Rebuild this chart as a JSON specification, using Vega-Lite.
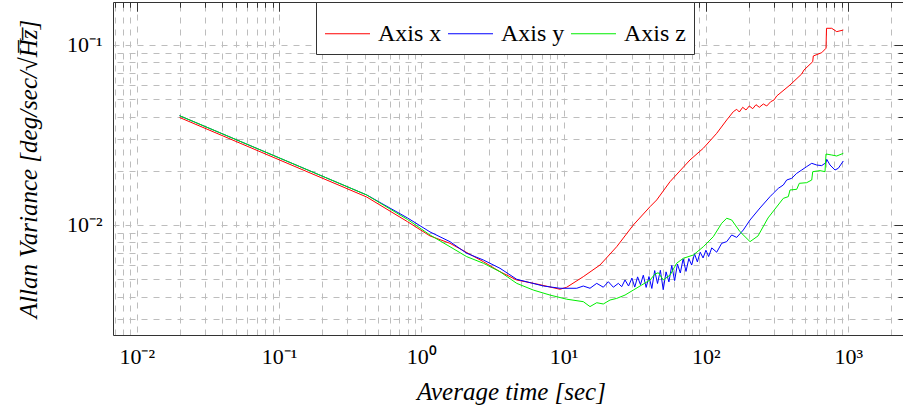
{
  "$schema": "https://vega.github.io/schema/vega-lite/v6.json",
  "autosize": {"type": "none"},
  "width": 790,
  "height": 333,
  "padding": {"left": 113, "top": 2, "right": 0, "bottom": 77},
  "config": {
    "view": {"stroke": null},
    "font": "Liberation Serif",
    "axis": {
      "gridColor": "#bdbdbd",
      "gridDash": [6, 6],
      "gridWidth": 1,
      "tickColor": "#333333",
      "tickWidth": 1,
      "domainColor": "#333333",
      "domainWidth": 1,
      "labelFont": "Liberation Serif",
      "labelFontSize": 22,
      "labelColor": "#000000",
      "titleFont": "Liberation Serif",
      "titleFontWeight": "normal",
      "titleFontStyle": "italic",
      "titleFontSize": 25,
      "titleColor": "#000000"
    },
    "legend": {"labelFont": "Liberation Serif"}
  },
  "data": {
    "values": [
      {"s": "Axis x", "t": 0.02, "v": 0.03956},
      {"s": "Axis x", "t": 0.4134, "v": 0.0143},
      {"s": "Axis x", "t": 0.8, "v": 0.01043},
      {"s": "Axis x", "t": 1.151, "v": 0.00869},
      {"s": "Axis x", "t": 1.591, "v": 0.00791},
      {"s": "Axis x", "t": 2.728, "v": 0.006254},
      {"s": "Axis x", "t": 3.573, "v": 0.005502},
      {"s": "Axis x", "t": 4.682, "v": 0.004948},
      {"s": "Axis x", "t": 6.471, "v": 0.004702},
      {"s": "Axis x", "t": 9.434, "v": 0.004394},
      {"s": "Axis x", "t": 10.51, "v": 0.004508},
      {"s": "Axis x", "t": 13.75, "v": 0.005162},
      {"s": "Axis x", "t": 18.03, "v": 0.005995},
      {"s": "Axis x", "t": 23.6, "v": 0.00757},
      {"s": "Axis x", "t": 30.9, "v": 0.01},
      {"s": "Axis x", "t": 40.5, "v": 0.01264},
      {"s": "Axis x", "t": 45.1, "v": 0.01377},
      {"s": "Axis x", "t": 55.95, "v": 0.0174},
      {"s": "Axis x", "t": 77.3, "v": 0.02297},
      {"s": "Axis x", "t": 95.9, "v": 0.02668},
      {"s": "Axis x", "t": 119.1, "v": 0.0323},
      {"s": "Axis x", "t": 140.0, "v": 0.03831},
      {"s": "Axis x", "t": 155.8, "v": 0.0426},
      {"s": "Axis x", "t": 164.6, "v": 0.04393},
      {"s": "Axis x", "t": 171.7, "v": 0.04244},
      {"s": "Axis x", "t": 181.4, "v": 0.04507},
      {"s": "Axis x", "t": 191.3, "v": 0.04354},
      {"s": "Axis x", "t": 201.8, "v": 0.04583},
      {"s": "Axis x", "t": 213.3, "v": 0.04427},
      {"s": "Axis x", "t": 224.9, "v": 0.0466},
      {"s": "Axis x", "t": 237.3, "v": 0.04507},
      {"s": "Axis x", "t": 253.2, "v": 0.04702},
      {"s": "Axis x", "t": 267.6, "v": 0.04583},
      {"s": "Axis x", "t": 285.4, "v": 0.04842},
      {"s": "Axis x", "t": 301.0, "v": 0.04949},
      {"s": "Axis x", "t": 314.5, "v": 0.05208},
      {"s": "Axis x", "t": 390, "v": 0.05995},
      {"s": "Axis x", "t": 471.3, "v": 0.06902},
      {"s": "Axis x", "t": 489.2, "v": 0.07263},
      {"s": "Axis x", "t": 563, "v": 0.08075},
      {"s": "Axis x", "t": 568.5, "v": 0.08688},
      {"s": "Axis x", "t": 651.3, "v": 0.09062},
      {"s": "Axis x", "t": 698.2, "v": 0.09588},
      {"s": "Axis x", "t": 703.9, "v": 0.1238},
      {"s": "Axis x", "t": 765.6, "v": 0.1238},
      {"s": "Axis x", "t": 830.4, "v": 0.1186},
      {"s": "Axis x", "t": 924, "v": 0.1211},

      {"s": "Axis y", "t": 0.02, "v": 0.04048},
      {"s": "Axis y", "t": 0.4134, "v": 0.01468},
      {"s": "Axis y", "t": 0.8, "v": 0.01094},
      {"s": "Axis y", "t": 1.151, "v": 0.00915},
      {"s": "Axis y", "t": 1.591, "v": 0.008075},
      {"s": "Axis y", "t": 2.084, "v": 0.006965},
      {"s": "Axis y", "t": 2.728, "v": 0.006391},
      {"s": "Axis y", "t": 3.573, "v": 0.005746},
      {"s": "Axis y", "t": 4.682, "v": 0.004993},
      {"s": "Axis y", "t": 7.2, "v": 0.004582},
      {"s": "Axis y", "t": 9.434, "v": 0.00445},
      {"s": "Axis y", "t": 12.37, "v": 0.00445},
      {"s": "Axis y", "t": 13.75, "v": 0.00458},
      {"s": "Axis y", "t": 15.33, "v": 0.00445},
      {"s": "Axis y", "t": 17.09, "v": 0.00474},
      {"s": "Axis y", "t": 19.01, "v": 0.00451},
      {"s": "Axis y", "t": 20.62, "v": 0.00484},
      {"s": "Axis y", "t": 22.36, "v": 0.00451},
      {"s": "Axis y", "t": 24.24, "v": 0.00474},
      {"s": "Axis y", "t": 25.6, "v": 0.00454},
      {"s": "Axis y", "t": 27.01, "v": 0.00495},
      {"s": "Axis y", "t": 28.6, "v": 0.00458},
      {"s": "Axis y", "t": 30.2, "v": 0.00507},
      {"s": "Axis y", "t": 31.62, "v": 0.00452},
      {"s": "Axis y", "t": 33.11, "v": 0.00515},
      {"s": "Axis y", "t": 34.67, "v": 0.00466},
      {"s": "Axis y", "t": 36.31, "v": 0.00526},
      {"s": "Axis y", "t": 38.02, "v": 0.0045},
      {"s": "Axis y", "t": 39.81, "v": 0.00517},
      {"s": "Axis y", "t": 41.69, "v": 0.00444},
      {"s": "Axis y", "t": 43.65, "v": 0.00558},
      {"s": "Axis y", "t": 45.71, "v": 0.00473},
      {"s": "Axis y", "t": 47.86, "v": 0.0056},
      {"s": "Axis y", "t": 50.12, "v": 0.00437},
      {"s": "Axis y", "t": 52.48, "v": 0.00549},
      {"s": "Axis y", "t": 54.95, "v": 0.00483},
      {"s": "Axis y", "t": 57.54, "v": 0.00596},
      {"s": "Axis y", "t": 60.26, "v": 0.00491},
      {"s": "Axis y", "t": 63.1, "v": 0.00607},
      {"s": "Axis y", "t": 66.07, "v": 0.00541},
      {"s": "Axis y", "t": 69.18, "v": 0.00648},
      {"s": "Axis y", "t": 72.44, "v": 0.00552},
      {"s": "Axis y", "t": 75.86, "v": 0.00651},
      {"s": "Axis y", "t": 79.43, "v": 0.00599},
      {"s": "Axis y", "t": 83.18, "v": 0.00692},
      {"s": "Axis y", "t": 87.1, "v": 0.00624},
      {"s": "Axis y", "t": 91.2, "v": 0.00706},
      {"s": "Axis y", "t": 95.5, "v": 0.00656},
      {"s": "Axis y", "t": 100, "v": 0.00724},
      {"s": "Axis y", "t": 104.5, "v": 0.00668},
      {"s": "Axis y", "t": 109.9, "v": 0.00746},
      {"s": "Axis y", "t": 119.1, "v": 0.00706},
      {"s": "Axis y", "t": 129.1, "v": 0.00791},
      {"s": "Axis y", "t": 140.0, "v": 0.00808},
      {"s": "Axis y", "t": 151.8, "v": 0.0088},
      {"s": "Axis y", "t": 164.6, "v": 0.00853},
      {"s": "Axis y", "t": 183.2, "v": 0.00938},
      {"s": "Axis y", "t": 204.2, "v": 0.01066},
      {"s": "Axis y", "t": 240, "v": 0.01243},
      {"s": "Axis y", "t": 282.1, "v": 0.01437},
      {"s": "Axis y", "t": 297.6, "v": 0.015},
      {"s": "Axis y", "t": 322.8, "v": 0.01598},
      {"s": "Axis y", "t": 349.9, "v": 0.01668},
      {"s": "Axis y", "t": 369.7, "v": 0.01778},
      {"s": "Axis y", "t": 400.9, "v": 0.01817},
      {"s": "Axis y", "t": 434.6, "v": 0.01936},
      {"s": "Axis y", "t": 471.2, "v": 0.0202},
      {"s": "Axis y", "t": 510.9, "v": 0.0211},
      {"s": "Axis y", "t": 554.1, "v": 0.02201},
      {"s": "Axis y", "t": 600.6, "v": 0.02154},
      {"s": "Axis y", "t": 651.2, "v": 0.02137},
      {"s": "Axis y", "t": 698.2, "v": 0.0222},
      {"s": "Axis y", "t": 706.2, "v": 0.02317},
      {"s": "Axis y", "t": 744.9, "v": 0.02154},
      {"s": "Axis y", "t": 807.7, "v": 0.0202},
      {"s": "Axis y", "t": 852, "v": 0.02065},
      {"s": "Axis y", "t": 924, "v": 0.02268},

      {"s": "Axis z", "t": 0.02, "v": 0.04048},
      {"s": "Axis z", "t": 0.4134, "v": 0.01468},
      {"s": "Axis z", "t": 0.8, "v": 0.01073},
      {"s": "Axis z", "t": 1.151, "v": 0.0088},
      {"s": "Axis z", "t": 1.591, "v": 0.00757},
      {"s": "Axis z", "t": 2.084, "v": 0.00667},
      {"s": "Axis z", "t": 2.728, "v": 0.00613},
      {"s": "Axis z", "t": 3.573, "v": 0.0055},
      {"s": "Axis z", "t": 4.682, "v": 0.00474},
      {"s": "Axis z", "t": 6.124, "v": 0.00435},
      {"s": "Axis z", "t": 8.025, "v": 0.00408},
      {"s": "Axis z", "t": 10.51, "v": 0.00387},
      {"s": "Axis z", "t": 13.75, "v": 0.00375},
      {"s": "Axis z", "t": 15.33, "v": 0.00352},
      {"s": "Axis z", "t": 17.09, "v": 0.0037},
      {"s": "Axis z", "t": 19.01, "v": 0.00364},
      {"s": "Axis z", "t": 21.2, "v": 0.00383},
      {"s": "Axis z", "t": 23.6, "v": 0.00391},
      {"s": "Axis z", "t": 27.01, "v": 0.00408},
      {"s": "Axis z", "t": 30.9, "v": 0.00435},
      {"s": "Axis z", "t": 35.39, "v": 0.00464},
      {"s": "Axis z", "t": 40.5, "v": 0.00495},
      {"s": "Axis z", "t": 43.88, "v": 0.00534},
      {"s": "Axis z", "t": 46.29, "v": 0.00543},
      {"s": "Axis z", "t": 50.2, "v": 0.00495},
      {"s": "Axis z", "t": 56, "v": 0.00527},
      {"s": "Axis z", "t": 62.3, "v": 0.00613},
      {"s": "Axis z", "t": 69.37, "v": 0.00653},
      {"s": "Axis z", "t": 81.6, "v": 0.00681},
      {"s": "Axis z", "t": 95.9, "v": 0.00757},
      {"s": "Axis z", "t": 112.7, "v": 0.00861},
      {"s": "Axis z", "t": 129.1, "v": 0.01022},
      {"s": "Axis z", "t": 140, "v": 0.0109},
      {"s": "Axis z", "t": 151.8, "v": 0.01066},
      {"s": "Axis z", "t": 173.6, "v": 0.00918},
      {"s": "Axis z", "t": 204.2, "v": 0.00808},
      {"s": "Axis z", "t": 232.3, "v": 0.00869},
      {"s": "Axis z", "t": 273.2, "v": 0.01094},
      {"s": "Axis z", "t": 349.9, "v": 0.01406},
      {"s": "Axis z", "t": 379.3, "v": 0.01437},
      {"s": "Axis z", "t": 389.9, "v": 0.01565},
      {"s": "Axis z", "t": 434.6, "v": 0.01578},
      {"s": "Axis z", "t": 453.3, "v": 0.01704},
      {"s": "Axis z", "t": 510.9, "v": 0.01718},
      {"s": "Axis z", "t": 554.1, "v": 0.01778},
      {"s": "Axis z", "t": 563.2, "v": 0.01978},
      {"s": "Axis z", "t": 633.7, "v": 0.02004},
      {"s": "Axis z", "t": 687.1, "v": 0.01978},
      {"s": "Axis z", "t": 698.2, "v": 0.02479},
      {"s": "Axis z", "t": 765.6, "v": 0.02448},
      {"s": "Axis z", "t": 830.4, "v": 0.02417},
      {"s": "Axis z", "t": 924, "v": 0.025}
    ]
  },
  "layer": [
    {
      "mark": {"type": "line", "strokeWidth": 1, "clip": true},
      "encoding": {
        "x": {
          "field": "t", "type": "quantitative",
          "scale": {"type": "log", "domain": [0.006812, 2427], "nice": false, "zero": false},
          "axis": {
            "values": [0.01, 0.1, 1, 10, 100, 1000],
            "labelExpr": "datum.value < 0.05 ? '10⁻²' : datum.value < 0.5 ? '10⁻¹' : datum.value < 5 ? '10⁰' : datum.value < 50 ? '10¹' : datum.value < 500 ? '10²' : '10³'",
            "grid": true, "ticks": false, "domain": true,
            "labelPadding": 11, "labelFlush": false,
            "title": "Average time [sec]",
            "titleX": 398, "titleY": 64, "titleBaseline": "alphabetic", "titleAlign": "center"
          }
        },
        "y": {
          "field": "v", "type": "quantitative",
          "scale": {"type": "log", "domain": [0.002448, 0.1733], "nice": false, "zero": false},
          "axis": {
            "values": [0.01, 0.1],
            "labelExpr": "datum.value < 0.05 ? '10⁻²' : '10⁻¹'",
            "grid": true, "ticks": false, "domain": true,
            "labelPadding": 11, "labelFlush": false,
            "title": "Allan Variance [deg/sec/√H̅z̅]",
            "titleX": -85, "titleY": 166.5, "titleBaseline": "middle", "titleAlign": "center", "titleAngle": -90
          }
        },
        "color": {
          "field": "s", "type": "nominal",
          "scale": {"domain": ["Axis x", "Axis y", "Axis z"], "range": ["#ff0000", "#0000ff", "#00ee00"]},
          "legend": {
            "title": null, "orient": "none", "legendX": 203, "legendY": 0,
            "direction": "horizontal",
            "strokeColor": "#333333", "fillColor": "#ffffff",
            "padding": 8, "labelFontSize": 24, "labelColor": "#000000", "labelFont": "Liberation Serif",
            "symbolType": "stroke", "symbolSize": 2025, "symbolStrokeWidth": 1.2,
            "labelOffset": 7, "columnPadding": 3, "labelLimit": 300
          }
        }
      }
    },
    {
      "mark": {"type": "line", "opacity": 0},
      "encoding": {
        "x": {
          "field": "t", "type": "quantitative",
          "axis": {
            "values": [0.007, 0.008, 0.009, 0.02, 0.03, 0.04, 0.05, 0.06, 0.07, 0.08, 0.09, 0.2, 0.3, 0.4, 0.5, 0.6, 0.7, 0.8, 0.9, 2, 3, 4, 5, 6, 7, 8, 9, 20, 30, 40, 50, 60, 70, 80, 90, 200, 300, 400, 500, 600, 700, 800, 900, 2000],
            "grid": true, "ticks": true, "tickSize": -5, "labels": false, "domain": false, "title": null
          }
        },
        "y": {
          "field": "v", "type": "quantitative",
          "axis": {
            "values": [0.003, 0.004, 0.005, 0.006, 0.007, 0.008, 0.009, 0.02, 0.03, 0.04, 0.05, 0.06, 0.07, 0.08, 0.09],
            "grid": true, "ticks": true, "tickSize": -5, "labels": false, "domain": false, "title": null
          }
        },
        "detail": {"field": "s"}
      }
    },
    {
      "mark": {"type": "line", "opacity": 0},
      "encoding": {
        "x": {
          "field": "t", "type": "quantitative",
          "axis": {
            "values": [0.01, 0.1, 1, 10, 100, 1000],
            "grid": false, "ticks": true, "tickSize": -9, "labels": false, "domain": false, "title": null
          }
        },
        "y": {
          "field": "v", "type": "quantitative",
          "axis": {
            "values": [0.01, 0.1],
            "grid": false, "ticks": true, "tickSize": -9, "labels": false, "domain": false, "title": null
          }
        },
        "detail": {"field": "s"}
      }
    },
    {
      "mark": {"type": "line", "opacity": 0},
      "encoding": {
        "x": {
          "field": "t", "type": "quantitative",
          "axis": {
            "orient": "top",
            "values": [0.01, 0.1, 1, 10, 100, 1000],
            "grid": false, "ticks": true, "tickSize": -9, "labels": false, "domain": true, "title": null
          }
        },
        "y": {"field": "v", "type": "quantitative", "axis": null},
        "detail": {"field": "s"}
      }
    },
    {
      "mark": {"type": "line", "opacity": 0},
      "encoding": {
        "x": {
          "field": "t", "type": "quantitative",
          "axis": {
            "orient": "top",
            "values": [0.007, 0.008, 0.009, 0.02, 0.03, 0.04, 0.05, 0.06, 0.07, 0.08, 0.09, 0.2, 0.3, 0.4, 0.5, 0.6, 0.7, 0.8, 0.9, 2, 3, 4, 5, 6, 7, 8, 9, 20, 30, 40, 50, 60, 70, 80, 90, 200, 300, 400, 500, 600, 700, 800, 900, 2000],
            "grid": false, "ticks": true, "tickSize": -5, "labels": false, "domain": false, "title": null
          }
        },
        "y": {"field": "v", "type": "quantitative", "axis": null},
        "detail": {"field": "s"}
      }
    }
  ],
  "resolve": {"axis": {"x": "independent", "y": "independent"}}
}
